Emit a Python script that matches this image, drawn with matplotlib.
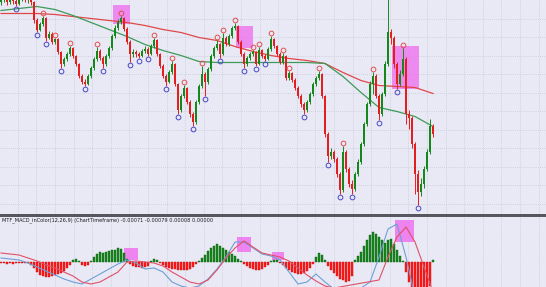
import matplotlib
matplotlib.use("Agg")
import matplotlib.pyplot as plt
import numpy as np
from matplotlib.patches import Rectangle

# ---------------- data (price in points) ----------------
closes = [214, 218, 212, 216, 213, 210, 215, 219, 214, 217,
          212, 194, 184, 190, 196, 176, 180, 172, 175, 162,
          150, 155, 160, 166, 158, 150, 138, 132, 130, 138,
          146, 155, 163, 156, 150, 158, 166, 178, 186, 192,
          196, 185, 172, 160, 162, 160, 158, 163, 165, 160,
          168, 174, 160, 148, 138, 132, 142, 150, 130, 104,
          118, 126, 112, 100, 92, 112, 128, 140, 132, 145,
          158, 166, 170, 160, 176, 170, 178, 186, 188, 172,
          160, 150, 156, 160, 162, 150, 164, 158, 155, 165,
          175, 168, 160, 152, 158, 136, 141, 134, 126, 118,
          110, 104, 112, 120, 130, 136, 140, 118, 80, 58,
          62, 55, 40, 24, 62, 45, 30, 25, 40, 52,
          70, 90, 110, 130, 138, 118, 100, 120, 150, 182,
          176, 150, 130, 140, 155, 100, 96, 70, 40, 22,
          30, 45, 62, 88, 80]
first_open = 212
highs = [217, 222, 220, 219, 218, 215, 218, 223, 221, 220,
         219, 213, 196, 192, 198, 197, 183, 182, 176, 176,
         163, 157, 162, 168, 167, 159, 151, 140, 135, 140,
         148, 157, 167, 165, 158, 160, 168, 180, 189, 195,
         198, 197, 187, 174, 165, 164, 162, 165, 168, 167,
         170, 176, 175, 161, 150, 140, 144, 153, 151, 131,
         120, 129, 127, 114, 102, 114, 130, 148, 142, 147,
         160, 168, 174, 171, 181, 178, 180, 188, 191, 189,
         174, 162, 158, 162, 164, 163, 167, 165, 160, 167,
         178, 176, 169, 162, 161, 159, 143, 142, 136, 128,
         120, 112, 114, 122, 132, 138, 143, 141, 119, 82,
         66, 64, 57, 42, 68, 64, 47, 34, 42, 55,
         72, 92, 112, 133, 142, 140, 120, 122, 153, 225,
         185, 178, 152, 144, 166, 157, 104, 98, 72, 44,
         36, 48, 65, 95, 90]
lows = [209, 212, 209, 210, 210, 208, 209, 213, 212, 211,
        209, 191, 182, 183, 188, 173, 175, 170, 170, 160,
        146, 148, 153, 158, 156, 148, 136, 130, 128, 129,
        136, 144, 153, 154, 146, 148, 156, 164, 176, 184,
        190, 183, 170, 152, 157, 157, 156, 157, 161, 158,
        159, 166, 158, 146, 136, 128, 131, 140, 128, 100,
        102, 116, 110, 97, 88, 90, 110, 126, 118, 130,
        143, 156, 164, 156, 159, 168, 168, 176, 184, 170,
        158, 146, 148, 154, 158, 148, 149, 156, 153, 154,
        163, 166, 158, 150, 150, 134, 134, 132, 124, 116,
        107, 100, 102, 110, 118, 128, 134, 116, 77, 52,
        55, 52, 37, 20, 22, 42, 27, 20, 23, 38,
        50, 68, 88, 108, 120, 116, 94, 98, 118, 148,
        170, 146, 125, 128, 138, 90, 85, 66, 20, 9,
        18, 26, 43, 60, 77]

up_fractals = [14, 18, 23, 32, 40, 51, 57, 61, 67, 72, 74, 78, 84, 86, 90,
               94, 96, 106, 114, 124, 134]
down_fractals = [5, 12, 15, 20, 28, 34, 43, 46, 49, 55, 59, 64, 68, 73, 81,
                 85, 88, 101, 109, 113, 117, 126, 132, 139]

ma_step = 6
ma_slow = [200, 200, 200, 199, 197, 195, 193, 191, 188, 184, 181, 176, 173,
           167, 162, 158, 155, 153, 150, 141, 133, 128, 127, 126, 120]
ma_fast = [203, 205, 207, 204, 198, 191, 184, 177, 169, 163, 158, 152, 151,
           151, 151, 151, 151, 151, 150, 137, 121, 106, 102, 97, 87]

# MACD sub-window (units of 1e-5)
macd_hist = [-1, -1, -2, -1, -2, -1, -1, -1, -1, -1,
             -3, -6, -10, -13, -14, -15, -15, -14, -13, -12, -11, -9, -6, -3,
             2, 3, 1, -3, -4, -3,
             1, 5, 8, 10, 9, 10, 11, 12, 12, 14, 13, 9, 3,
             -2, -4, -5, -5, -6, -5, -4,
             1, 3, 2,
             -1, -3, -5, -6, -7, -7, -8, -8, -8, -8, -7, -5, -2,
             1, 4, 7, 11, 14, 16, 18, 16, 14, 12, 10, 8, 6, 3, 1,
             -2, -4, -6, -7, -8, -8, -7, -5, -3,
             1, 2, 2, -1,
             -3, -6, -8, -10, -11, -12, -12, -11, -9, -6, -2,
             5, 9, 7, 2,
             -4, -8, -11, -14, -17, -18, -20, -19, -14,
             2, 6, 10, 16, 22, 27, 30, 28, 25, 22, 19, 22, 23, 18, 12, 6, 1,
             -10, -20, -26, -30, -32, -32, -30, -28, -24, 2]
line_step = 3
macd_main = [4, 3, 2, -1, -5, -9, -13, -17, -20, -22,
             -17, -12, -7, -2, 2, -1, -7, -6, -10, -20,
             -24, -26, -24, -17, -7, 5, 20, 20, 14, 8,
             6, 2, -10, -22, -20, -12, -20, -27, -28, -26,
             -26, -20, 5, 33, 38, 5, -35, -50, -58]
macd_signal = [9, 8, 7, 4, 1, -3, -6, -10, -14, -20,
               -22, -20, -15, -10, 0, 1, 0, -1, -4, -10,
               -15, -20, -22, -18, -8, 4, 14, 21, 15, 9,
               7, 5, 1, -6, -13, -19, -24, -26, -27, -26,
               -27, -26, -18, 5, 25, 35, 20, -5, -30]

# highlight boxes: (start bar, end bar, low, high)
main_boxes = [(37.3, 43.0, 190, 209), (78.3, 84.0, 166, 188), (130.3, 139.3, 125, 168)]
macd_boxes = [(41.0, 45.7, 2, 14), (78.7, 83.3, 10, 25), (90.3, 94.3, 2, 10), (131.3, 137.7, 20, 42)]

label = "MTF_MACD_inColor(12,26,9) (ChartTimeframe) -0.00071 -0.00079 0.00008 0.00000"

# ---------------- drawing ----------------
W, H = 546, 287
BG = '#e9e9f5'
GRID = '#c8c8d8'
GREEN = '#15881c'
RED = '#e41e1e'
PINK = '#ee72ee'

fig = plt.figure(figsize=(W / 100, H / 100), dpi=100)
fig.patch.set_facecolor(BG)

ax = fig.add_axes([0, 73.5 / H, 1, 213.5 / H])
axm = fig.add_axes([0, 0, 1, 70.5 / H])
for a in (ax, axm):
    a.set_facecolor(BG)
    for s in a.spines.values():
        s.set_visible(False)
    a.tick_params(length=0, labelbottom=False, labelleft=False)
    a.set_xlim(-1 / 3, -1 / 3 + W / 3)
    a.set_xticks(np.arange(5.6, 182, 6.2))
    a.grid(True, axis='x', color=GRID, lw=0.6, ls=(0, (1, 1.5)))

N = len(closes)
x = np.arange(N)
c = np.array(closes, dtype=float)
o = np.array([first_open] + closes[:-1], dtype=float)
hi = np.array(highs, dtype=float)
lo = np.array(lows, dtype=float)
cols = np.where(c >= o, GREEN, RED)

ax.set_ylim(0, 213.5)
ax.set_yticks(np.arange(10, 213, 18.5))
ax.grid(True, axis='y', color=GRID, lw=0.6, ls=(0, (1, 1.5)))

for (x0, x1, y0, y1) in main_boxes:
    ax.add_patch(Rectangle((x0, y0), x1 - x0, y1 - y0, facecolor=PINK,
                           edgecolor='none', alpha=0.8, zorder=2))

xm = np.arange(0, N, ma_step)
ax.plot(xm, ma_slow, color='#e04848', lw=0.9, zorder=3)
ax.plot(xm, ma_fast, color='#3e9a58', lw=0.9, zorder=3)

ax.vlines(x, lo, hi, colors=cols, lw=0.7, zorder=4)
body = np.where(np.abs(c - o) < 0.8, 0.8, c - o)
ax.bar(x, body, bottom=o, width=0.62, color=cols, linewidth=0, zorder=5)

uf = np.array(up_fractals)
df = np.array(down_fractals)
ax.plot(uf, hi[uf] + 3, 'o', mfc='none', mec='#e05050', ms=3.4, mew=0.7, zorder=6)
ax.plot(df, lo[df] - 3, 'o', mfc='none', mec='#4848c8', ms=3.4, mew=0.7, zorder=6)

# separator
fig.patches.append(Rectangle((0, 70.5 / H), 1, 3 / H, transform=fig.transFigure,
                             facecolor='#575760', edgecolor='none'))

# MACD window
axm.set_ylim(-25, 45.5)
hv = np.array(macd_hist, dtype=float)
hcols = np.where(hv >= 0, GREEN, '#ff1818')
axm.bar(x, hv, width=0.65, color=hcols, edgecolor=np.where(hv >= 0, '#0b5e0b', '#d01010'),
        linewidth=0.3, zorder=3)
for (x0, x1, y0, y1) in macd_boxes:
    axm.add_patch(Rectangle((x0, y0), x1 - x0, y1 - y0, facecolor=PINK,
                            edgecolor='none', alpha=0.85, zorder=2))
xl = np.arange(0, N, line_step)
axm.plot(xl, macd_main, color='#6e9fd6', lw=0.8, zorder=4)
axm.plot(xl, macd_signal, color='#e05068', lw=0.8, zorder=4)

fig.text(2 / W, 1 - 220 / H, label, fontsize=3.6, color='#1a1a1a', va='center', ha='left')

fig.savefig('out.png', dpi=100, facecolor=BG)
